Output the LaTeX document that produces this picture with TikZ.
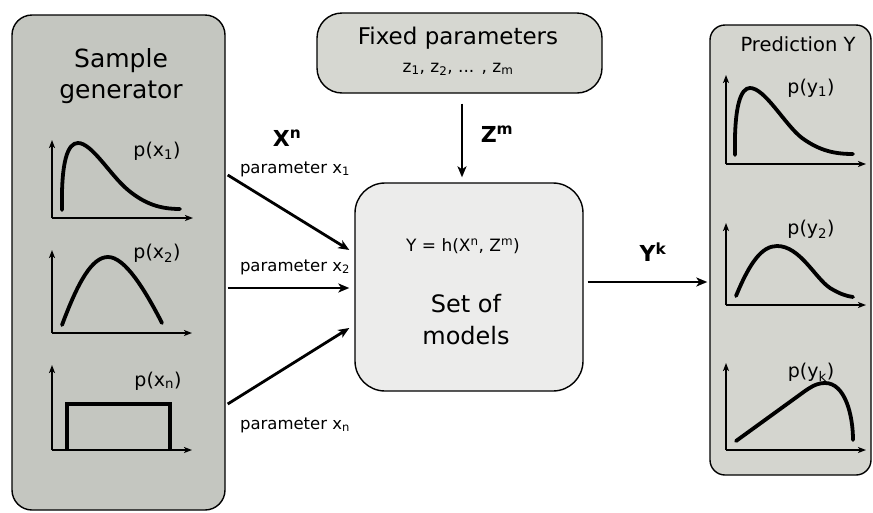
\documentclass[tikz,border=0pt]{standalone}
\usepackage{fontspec}
\setmainfont{DejaVu Sans}
\usetikzlibrary{arrows.meta}
\definecolor{leftgray}{RGB}{196,198,192}
\definecolor{rightgray}{RGB}{212,213,207}
\definecolor{fixgray}{RGB}{214,215,209}
\definecolor{modgray}{RGB}{236,236,235}
\tikzset{
  boxstyle/.style={draw=black, line width=1.4pt, inner sep=0pt},
  arr/.style={line width=2.8pt, -{Stealth[length=11pt,width=9pt,inset=3pt]}},
  axis/.style={line width=1.6pt, -{Stealth[length=8pt,width=6pt,inset=2pt]}},
  curve/.style={line width=3.8pt, line cap=round},
  plab/.style={font=\fontsize{19}{22}\selectfont, inner sep=0pt},
  parlab/.style={font=\fontsize{16.5}{19}\selectfont, inner sep=0pt},
  boldlab/.style={font=\fontsize{22}{24}\selectfont\bfseries, inner sep=0pt},
}
\begin{document}
\begin{tikzpicture}[x=1pt,y=-1pt]
\useasboundingbox (0,0) rectangle (873,512);
% boxes
\node[boxstyle, fill=leftgray, rounded corners=20pt, minimum width=213pt, minimum height=495pt] (gen) at (118.5,262.5) {};
\node[boxstyle, fill=rightgray, rounded corners=15pt, minimum width=161pt, minimum height=450pt] (pred) at (790.5,250) {};
\node[boxstyle, fill=fixgray, rounded corners=25pt, minimum width=285pt, minimum height=80pt] (fixed) at (459.5,53) {};
\node[boxstyle, fill=modgray, rounded corners=30pt, minimum width=228pt, minimum height=208pt] (models) at (469,287) {};
% box texts
\node[align=center, inner sep=0pt, font=\fontsize{25}{31}\selectfont] (gentxt) at (121,76) {Sample\\generator};
\node[inner sep=0pt, font=\fontsize{19.5}{22}\selectfont] (predtxt) at (798,44) {Prediction Y};
\node[inner sep=0pt, font=\fontsize{23}{26}\selectfont] (fixtxt) at (458,38) {Fixed parameters};
\node[inner sep=0pt, font=\fontsize{17}{20}\selectfont] (ztxt) at (458,69) {z\textsubscript{1}, z\textsubscript{2}, ... , z\textsubscript{m}};
\node[inner sep=0pt, font=\fontsize{17}{20}\selectfont] (eqtxt) at (463,246) {Y = h(X\textsuperscript{n}, Z\textsuperscript{m})};
\node[align=center, inner sep=0pt, font=\fontsize{24}{32}\selectfont] (modtxt) at (466,320) {Set of\\models};
% plots left
\draw[axis] (52,218) -- (52,140);
\draw[axis] (52,218) -- (193,218);
\draw[curve] (62,210) .. controls (61,160) and (68,143) .. (78,143) .. controls (92,143) and (110,175) .. (128,190) .. controls (145,204) and (160,209) .. (180,209);
\node[plab] (px1) at (157,151) {p(x\textsubscript{1})};

\draw[axis] (52,333) -- (52,250);
\draw[axis] (52,333) -- (192,333);
\draw[curve] (62,325) .. controls (78,282) and (92,257) .. (108,257) .. controls (125,257) and (145,290) .. (162,323);
\node[plab] (px2) at (157,253) {p(x\textsubscript{2})};

\draw[axis] (52,450) -- (52,365);
\draw[axis] (52,450) -- (192,450);
\draw[curve, line cap=butt] (67,450) -- (67,404) -- (170,404) -- (170,450);
\node[plab] (pxn) at (158,381) {p(x\textsubscript{n})};
% plots right
\draw[axis] (726,164) -- (726,75);
\draw[axis] (726,164) -- (866,164);
\draw[curve] (735,155) .. controls (734,105) and (741,88) .. (750,88) .. controls (765,88) and (785,125) .. (802,138) .. controls (820,151) and (835,154) .. (853,154);
\node[plab] (py1) at (811,88) {p(y\textsubscript{1})};

\draw[axis] (726,305) -- (726,223);
\draw[axis] (726,305) -- (866,305);
\draw[curve] (736,296) .. controls (750,262) and (762,246) .. (777,246) .. controls (800,246) and (815,278) .. (830,288) .. controls (840,294) and (846,296) .. (853,297);
\node[plab] (py2) at (811,229) {p(y\textsubscript{2})};

\draw[axis] (726,450) -- (726,363);
\draw[axis] (726,450) -- (866,450);
\draw[curve] (736,441) -- (805,391) .. controls (815,384) and (820,383) .. (825,383) .. controls (845,383) and (853,415) .. (853,440);
\node[plab] (pyk) at (811,372) {p(y\textsubscript{k})};
% connectors
\draw[arr] ([xshift=2pt,yshift=87.5pt]gen.east) -- ([xshift=-5pt,yshift=37pt]models.west);
\draw[arr] ([xshift=2pt,yshift=-25.5pt]gen.east) -- ([xshift=-5pt,yshift=-1pt]models.west);
\draw[arr] ([xshift=2pt,yshift=-141.5pt]gen.east) -- ([xshift=-5pt,yshift=-41pt]models.west);
\coordinate (zs) at ([xshift=2.5pt,yshift=-10pt]fixed.south);
\draw[arr] (zs) -- ([yshift=5pt]zs |- models.north);
\coordinate (ys) at ([xshift=4pt,yshift=5pt]models.east);
\draw[arr] (ys) -- ([xshift=-2pt]ys -| pred.west);
% connector labels
\node[boldlab] (xn) at (287,138) {X\textsuperscript{n}};
\node[parlab] (par1) at (295,169) {parameter x\textsubscript{1}};
\node[parlab] (par2) at (295,267) {parameter x\textsubscript{2}};
\node[parlab] (parn) at (295,425) {parameter x\textsubscript{n}};
\node[boldlab] (zm) at (497,134) {Z\textsuperscript{m}};
\node[boldlab] (yk) at (653,252) {Y\textsuperscript{k}};
\end{tikzpicture}
\end{document}
